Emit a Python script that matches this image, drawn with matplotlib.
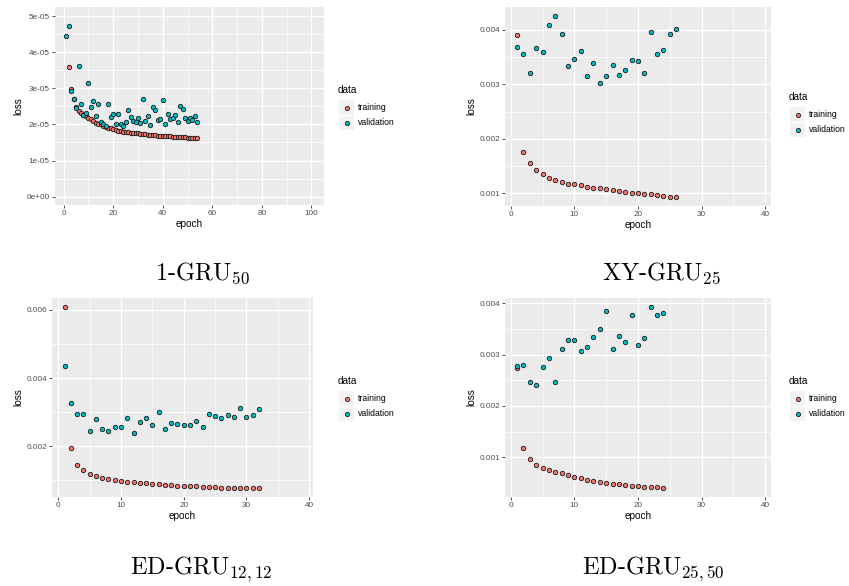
import matplotlib
matplotlib.use("Agg")
import matplotlib.pyplot as plt
from matplotlib.lines import Line2D
import numpy as np

plt.rcParams["font.family"] = ["Liberation Sans", "DejaVu Sans"]
plt.rcParams["mathtext.fontset"] = "cm"

# ── Data ────────────────────────────────────────────────────────────────────
# 1-GRU_50, units 1e-05
gru50_val = [4.46, 4.73, 2.93, 2.70, 2.45, 3.63, 2.56, 2.27, 2.33, 3.16,
             2.49, 2.66, 2.23, 2.56, 2.06, 2.01, 1.96, 2.57, 2.20, 2.30,
             2.01, 2.28, 2.01, 1.96, 2.08, 2.40, 2.21, 2.10, 2.08, 2.18,
             2.05, 2.70, 2.10, 2.23, 1.99, 2.49, 2.39, 2.12, 2.15, 2.68,
             2.02, 2.30, 2.16, 2.17, 2.25, 2.08, 2.51, 2.42, 2.18, 2.10,
             2.18, 2.12, 2.23, 2.07]
gru50_train = [3.60, 2.98, 2.70, 2.48, 2.38, 2.32, 2.27, 2.23, 2.19, 2.15,
               2.10, 2.05, 2.02, 2.00, 1.97, 1.94, 1.91, 1.89, 1.87, 1.85,
               1.83, 1.82, 1.80, 1.79, 1.78, 1.77, 1.76, 1.76, 1.75, 1.74,
               1.73, 1.73, 1.72, 1.71, 1.70, 1.70, 1.69, 1.69, 1.68, 1.68,
               1.67, 1.67, 1.66, 1.66, 1.65, 1.65, 1.64, 1.64, 1.63, 1.63,
               1.62, 1.62, 1.62]   # epochs 2..54

# XY-GRU_25, units 1e-03
xy_val = [3.69, 3.56, 3.20, 3.67, 3.60, 4.09, 4.26, 3.93, 3.34, 3.47,
          3.62, 3.16, 3.40, 3.02, 3.16, 3.36, 3.18, 3.26, 3.45, 3.43,
          3.21, 3.96, 3.56, 3.63, 3.93, 4.01]
xy_train = [3.90, 1.75, 1.55, 1.42, 1.36, 1.29, 1.24, 1.21, 1.18, 1.17,
            1.15, 1.12, 1.10, 1.09, 1.07, 1.06, 1.04, 1.02, 1.01, 1.00,
            0.99, 0.98, 0.96, 0.95, 0.94, 0.94]

# ED-GRU_12,12, units 1e-03
ed12_val = [4.35, 3.28, 2.95, 2.95, 2.45, 2.80, 2.50, 2.45, 2.57, 2.56,
            2.82, 2.39, 2.70, 2.82, 2.63, 2.99, 2.52, 2.69, 2.65, 2.62,
            2.63, 2.74, 2.57, 2.95, 2.88, 2.82, 2.93, 2.86, 3.11, 2.87,
            2.91, 3.10]
ed12_train = [6.08, 1.95, 1.44, 1.29, 1.19, 1.14, 1.08, 1.04, 1.02, 0.98,
              0.96, 0.94, 0.92, 0.92, 0.90, 0.88, 0.86, 0.86, 0.84, 0.84,
              0.82, 0.82, 0.80, 0.80, 0.80, 0.78, 0.78, 0.78, 0.77, 0.76,
              0.76, 0.76]

# ED-GRU_25,50, units 1e-03
ed25_val = [2.78, 2.79, 2.47, 2.40, 2.75, 2.93, 2.47, 3.10, 3.29, 3.29,
            3.06, 3.15, 3.34, 3.49, 3.84, 3.10, 3.36, 3.25, 3.76, 3.18,
            3.32, 3.93, 3.77, 3.80]
ed25_train = [2.73, 1.19, 0.97, 0.86, 0.80, 0.76, 0.71, 0.69, 0.65, 0.62,
              0.59, 0.56, 0.54, 0.53, 0.51, 0.49, 0.48, 0.47, 0.45, 0.44,
              0.43, 0.42, 0.42, 0.41]

TRAIN_C = "#F8766D"
VAL_C = "#00BFC4"
BG = "#EBEBEB"
W, H = 849, 586


def fx(px):
    return px / W


def fy(py):
    return 1 - py / H


panels = [
    # rect (left, top, right, bottom) in px, data, scale, limits, ticks
    dict(rect=(55, 7, 324, 205), val=gru50_val, train=gru50_train, t0=2,
         xlim=(-3.5, 105.1), ylim=(-0.23, 5.25),
         xmaj=[0, 20, 40, 60, 80, 100], xmin=[10, 30, 50, 70, 90],
         ymaj=[0, 1, 2, 3, 4, 5], ymin=[0.5, 1.5, 2.5, 3.5, 4.5],
         ylab=["0e+00", "1e-05", "2e-05", "3e-05", "4e-05", "5e-05"],
         cap="1-GRU$_{50}$", capx=202, capy=280, leg=(338, 90)),
    dict(rect=(505, 7, 771, 206), val=xy_val, train=xy_train, t0=1,
         xlim=(-0.9, 40.9), ylim=(0.767, 4.42),
         xmaj=[0, 10, 20, 30, 40], xmin=[5, 15, 25, 35],
         ymaj=[1, 2, 3, 4], ymin=[1.5, 2.5, 3.5],
         ylab=["0.001", "0.002", "0.003", "0.004"],
         cap="XY-GRU$_{25}$", capx=661, capy=280, leg=(789, 97)),
    dict(rect=(52, 298, 313, 497), val=ed12_val, train=ed12_train, t0=1,
         xlim=(-1.0, 40.6), ylim=(0.51, 6.35),
         xmaj=[0, 10, 20, 30, 40], xmin=[5, 15, 25, 35],
         ymaj=[2, 4, 6], ymin=[1, 3, 5],
         ylab=["0.002", "0.004", "0.006"],
         cap="ED-GRU$_{12,12}$", capx=201, capy=574, leg=(338, 381)),
    dict(rect=(505, 298, 771, 497), val=ed25_val, train=ed25_train, t0=1,
         xlim=(-0.9, 40.9), ylim=(0.23, 4.10),
         xmaj=[0, 10, 20, 30, 40], xmin=[5, 15, 25, 35],
         ymaj=[1, 2, 3, 4], ymin=[1.5, 2.5, 3.5],
         ylab=["0.001", "0.002", "0.003", "0.004"],
         cap="ED-GRU$_{25,50}$", capx=653, capy=574, leg=(789, 381)),
]

fig = plt.figure(figsize=(W / 100, H / 100), dpi=100)

for p in panels:
    l, t, r, b = p["rect"]
    ax = fig.add_axes([fx(l), fy(b), (r - l) / W, (b - t) / H])
    ax.set_facecolor(BG)
    for s in ax.spines.values():
        s.set_visible(False)

    for v in p["xmin"]:
        ax.axvline(v, color="white", lw=0.5, zorder=0)
    for v in p["ymin"]:
        ax.axhline(v, color="white", lw=0.5, zorder=0)
    for v in p["xmaj"]:
        ax.axvline(v, color="white", lw=1.0, zorder=0)
    for v in p["ymaj"]:
        ax.axhline(v, color="white", lw=1.0, zorder=0)

    ep_val = np.arange(1, len(p["val"]) + 1)
    ep_tr = np.arange(p["t0"], p["t0"] + len(p["train"]))
    ax.plot(ep_tr, p["train"], "o", ms=3.2, mfc=TRAIN_C, mec="#1a1a1a",
            mew=0.6, zorder=3)
    ax.plot(ep_val, p["val"], "o", ms=3.2, mfc=VAL_C, mec="#1a1a1a",
            mew=0.6, zorder=3)

    ax.set_xlim(p["xlim"])
    ax.set_ylim(p["ylim"])
    ax.set_xticks(p["xmaj"])
    ax.set_yticks(p["ymaj"])
    ax.set_yticklabels(p["ylab"])
    ax.tick_params(length=2.2, width=0.6, color="#333333", labelsize=5.9,
                   labelcolor="#4D4D4D", pad=1.5)
    ax.set_xlabel("epoch", fontsize=7.2, labelpad=1.5)
    ax.set_ylabel("loss", fontsize=7.2, labelpad=2)

    fig.text(fx(p["capx"]), fy(p["capy"]), p["cap"], family="cmr10",
             fontsize=17.5, ha="center", va="baseline")

    # legend
    lx, ly = p["leg"]
    fig.text(fx(lx), fy(ly), "data", fontsize=7.2, ha="left", va="center")
    kax = fig.add_axes([fx(lx + 1), fy(ly + 40), 15 / W, 30 / H])
    kax.set_facecolor("#F2F2F2")
    kax.set_xlim(0, 1)
    kax.set_ylim(0, 2)
    kax.set_xticks([])
    kax.set_yticks([])
    for s in kax.spines.values():
        s.set_visible(False)
    kax.axhline(1, color="white", lw=1)
    for yy, c, name in [(1.5, TRAIN_C, "training"), (0.5, VAL_C, "validation")]:
        kax.add_line(Line2D([0.5], [yy], marker="o", ms=3.0, mfc=c,
                            mec="#1a1a1a", mew=0.6, ls="none"))
        fig.text(fx(lx + 20), fy(ly + 40) + (yy / 2) * 30 / H, name,
                 fontsize=6.2, ha="left", va="center")

fig.savefig("out.png", dpi=100)
